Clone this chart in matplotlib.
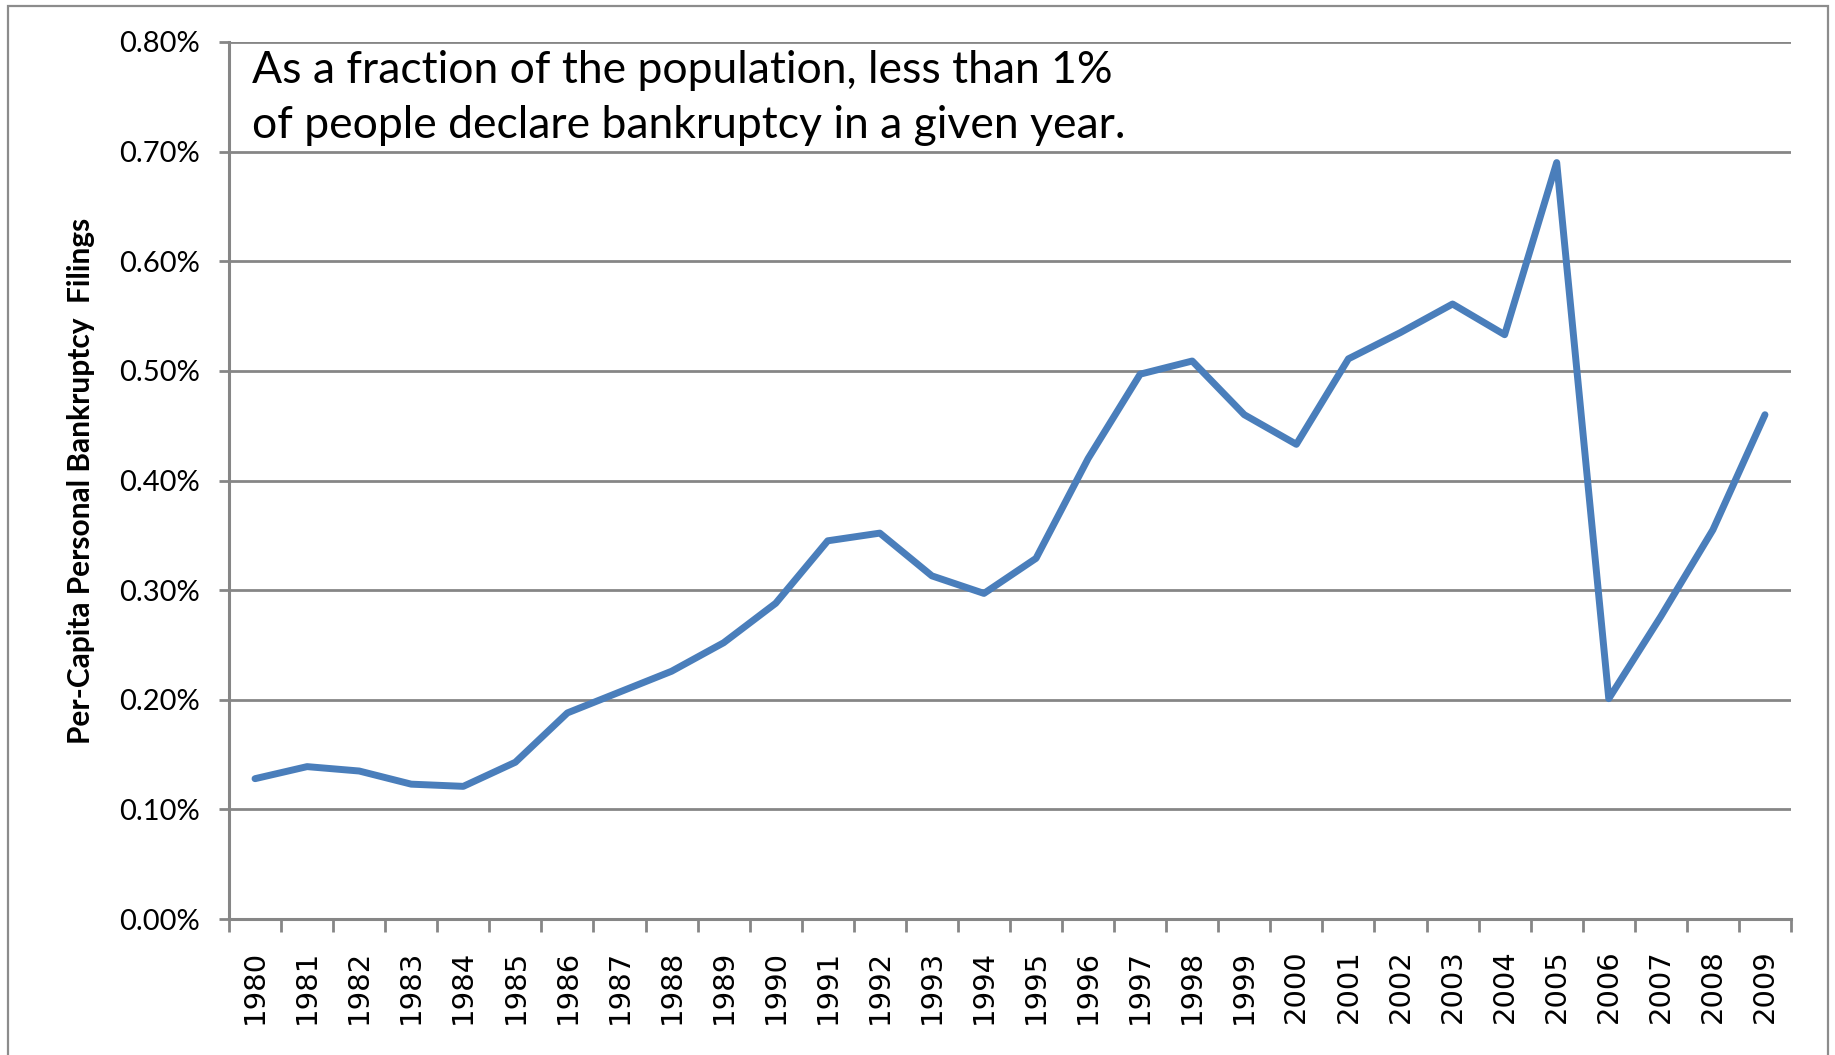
import numpy as np
import matplotlib
matplotlib.use('Agg')
import matplotlib.pyplot as plt
from matplotlib.patches import Rectangle
from matplotlib.ticker import FixedLocator, FuncFormatter

# ----- data (percent of population filing per year) -----
years = list(range(1980, 2010))
filings_pct = [0.128, 0.139, 0.135, 0.123, 0.121, 0.143, 0.188, 0.207, 0.226, 0.252,
               0.288, 0.345, 0.352, 0.313, 0.297, 0.329, 0.420, 0.497, 0.509, 0.460,
               0.433, 0.511, 0.535, 0.561, 0.533, 0.690, 0.201, 0.276, 0.355, 0.460]
y_ticks = [0.0, 0.1, 0.2, 0.3, 0.4, 0.5, 0.6, 0.7, 0.8]
note = "As a fraction of the population, less than 1%\nof people declare bankruptcy in a given year."
ylabel = "Per-Capita Personal Bankruptcy  Filings"

GREY = '#868686'
BLUE = '#4a7ebb'
W, H, DPI = 1835, 1055, 100

fig = plt.figure(figsize=(W / DPI, H / DPI), dpi=DPI)
ax = fig.add_axes([229 / W, 1 - 919 / H, (1791 - 229) / W, (919 - 42) / H])

x = np.arange(len(years))
ax.plot(x, filings_pct, color=BLUE, lw=5.0, solid_joinstyle='round', solid_capstyle='round', zorder=3)

ax.set_xlim(-0.5, len(years) - 0.5)
ax.set_ylim(0, 0.8)

# gridlines + y ticks
ax.set_yticks(y_ticks)
ax.yaxis.set_major_formatter(FuncFormatter(lambda v, p: f"{v:.2f}%"))
ax.grid(axis='y', color=GREY, lw=2.0, zorder=1)
ax.tick_params(axis='y', length=7, width=2.0, color=GREY, pad=14, labelsize=21)
for lab in ax.get_yticklabels():
    lab.set_family('Lato')

# x ticks between categories, labels at centres
ax.xaxis.set_major_locator(FixedLocator(np.arange(len(years) + 1) - 0.5))
ax.xaxis.set_major_formatter(FuncFormatter(lambda v, p: ''))
ax.xaxis.set_minor_locator(FixedLocator(x))
ax.set_xticklabels([str(y) for y in years], minor=True, rotation=90, fontsize=21,
                   family='DejaVu Sans')
ax.tick_params(axis='x', which='major', length=9, width=2.0, color=GREY)
ax.tick_params(axis='x', which='minor', length=0, pad=22)

for s in ['top', 'right']:
    ax.spines[s].set_visible(False)
for s in ['left', 'bottom']:
    ax.spines[s].set_color(GREY)
    ax.spines[s].set_linewidth(2.2)

ax.set_ylabel(ylabel, fontsize=21.5, fontweight='bold', family='Lato', labelpad=17)

ax.text(252 / W, 1 - 138 / H, note, transform=fig.transFigure, fontsize=32,
        family='Lato', va='baseline', ha='left', linespacing=1.42)

# outer chart border (bottom edge runs off the image)
fig.patches.append(Rectangle((8 / W, -0.1), (1828 - 8) / W, 1.1 - 6 / H,
                             transform=fig.transFigure, fill=False,
                             edgecolor='#8c8c8c', lw=1.6))

fig.savefig('out.png', dpi=DPI)
